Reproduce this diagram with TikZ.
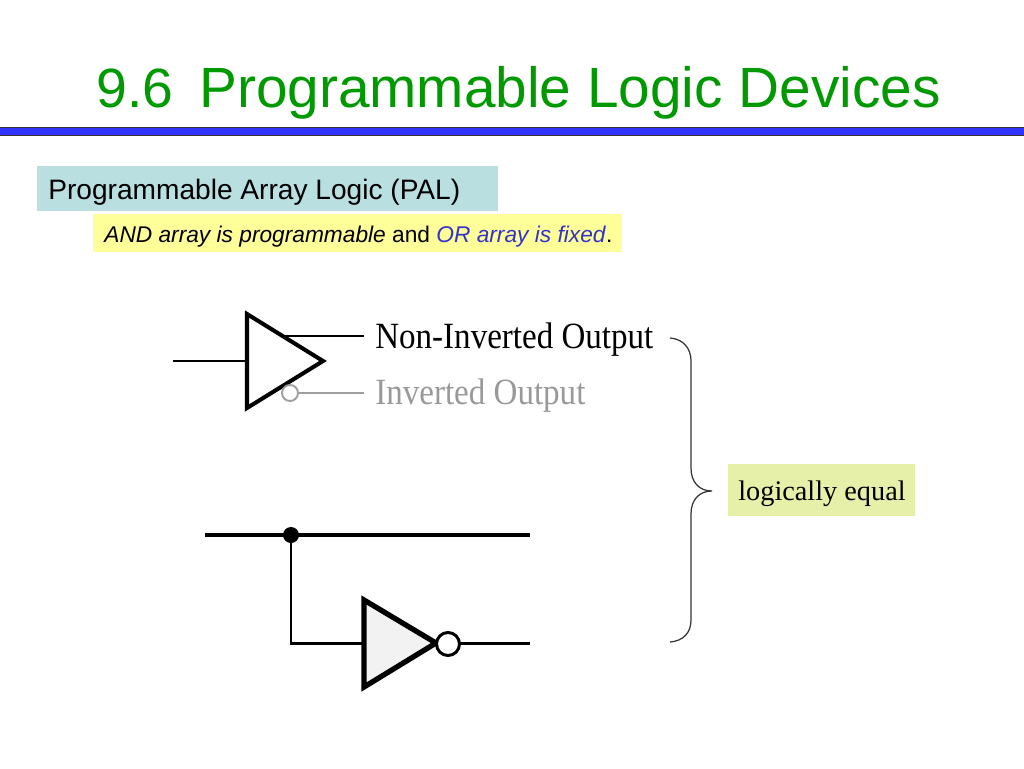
\documentclass[tikz,border=0pt]{standalone}
\usepackage{fontspec}
\setmainfont{Liberation Sans}
\newfontfamily\serifface{Liberation Serif}
\definecolor{titlegreen}{HTML}{009900}
\definecolor{barblue}{HTML}{3333FF}
\definecolor{palteal}{HTML}{B9DFE1}
\definecolor{noteyellow}{HTML}{FFFF99}
\definecolor{eqgreen}{HTML}{E6F0A8}
\definecolor{orblue}{HTML}{3333CC}
\tikzset{
  wire/.style={line width=1.3pt},
  thickwire/.style={line width=1.7pt},
  gatetri/.style={line width=2.3pt,line join=miter},
  labelbox/.style={inner sep=0pt,text depth=0pt}
}
\begin{document}
\begin{tikzpicture}[x=0.02cm,y=-0.02cm]
    \useasboundingbox (0,0) rectangle (1024,768);
    % heading
    \node[labelbox,anchor=base west,text=titlegreen,font=\fontsize{31.5pt}{36pt}\selectfont] (num) at (96,107) {9.6};
    \node[labelbox,anchor=base west,text=titlegreen,font=\fontsize{32.3pt}{36pt}\selectfont] (head) at (199,107) {Programmable Logic Devices};
    \draw[fill=barblue,draw=black!80,line width=0.6pt] (-2,127.5) rectangle (1026,135.5);
    % text boxes
    \fill[palteal] (37,166) rectangle (498,211);
    \node[labelbox,anchor=base west,font=\fontsize{16pt}{18pt}\selectfont] (pal) at (48,199) {Programmable Array Logic (PAL)};
    \fill[noteyellow] (93,214) rectangle (622,252);
    \node[labelbox,anchor=base west,font=\fontsize{12.93pt}{15pt}\selectfont] (note) at (104,242) {\textit{AND array is programmable} and \textcolor{orblue}{\textit{OR array is fixed}}.};
    % buffer with both outputs
    \coordinate (inA) at (173,361);
    \coordinate (tA1) at (247,314);
    \coordinate (tA2) at (247,408);
    \coordinate (tA3) at (323,361);
    \coordinate (midA) at (247,361);
    \coordinate (outAs) at (283,336);
    \coordinate (outA) at (364,336);
    \coordinate (outBs) at (298,393);
    \coordinate (outB) at (364,393);
    \draw[wire] (inA) -- (midA);
    \draw[wire] (outAs) -- (outA);
    \draw[gatetri] (tA1) -- (tA2) -- (tA3) -- cycle;
    \draw[gray!75,line width=1.1pt] (290,393) circle (8);
    \draw[gray!75,line width=1.1pt] (outBs) -- (outB);
    \node[labelbox,anchor=base west,font=\serifface\fontsize{18.8pt}{22pt}\selectfont] (nonin) at (375,348) {\scalebox{1.0}[1.12]{Non-Inverted Output}};
    \node[labelbox,anchor=base west,text=gray!80,font=\serifface\fontsize{18.8pt}{22pt}\selectfont] (inv) at (375,404) {\scalebox{1.0}[1.12]{Inverted Output}};
    % equivalent circuit
    \coordinate (inC) at (205,535);
    \coordinate (joinC) at (291,535);
    \coordinate (endC) at (530,535);
    \coordinate (cornerC) at (291,643);
    \coordinate (tC1) at (364,600);
    \coordinate (tC2) at (364,687);
    \coordinate (tC3) at (436,643);
    \coordinate (midC) at (364,643);
    \coordinate (bubC) at (448,644);
    \coordinate (outCs) at (460,643);
    \coordinate (outC) at (530,643);
    \draw[thickwire,line width=2pt] (inC) -- (endC);
    \draw[thickwire] (joinC) -- (cornerC) -- (midC);
    \fill (joinC) circle (8);
    \draw[gatetri,line width=3pt,fill=gray!10] (tC1) -- (tC2) -- (tC3) -- cycle;
    \draw[thickwire,fill=white] (bubC) circle (11.5);
    \draw[thickwire] (outCs) -- (outC);
    % brace
    \fill[eqgreen] (728,464) rectangle (915,516);
    \node[labelbox,anchor=base west,font=\serifface\fontsize{16.1pt}{18pt}\selectfont] (eq) at (738,500) {logically equal};
    \coordinate (brTop) at (670,338);
    \coordinate (brTip) at (712,491);
    \coordinate (brBot) at (670,642);
    \draw[black!80,line width=0.7pt] (brTop) .. controls (683,339) and (691,348) .. (691,361)
      -- (691,468) .. controls (691,482) and (699,491) .. (brTip)
      .. controls (699,491) and (691,500) .. (691,514)
      -- (691,620) .. controls (691,633) and (683,641) .. (brBot);
\end{tikzpicture}
\end{document}
